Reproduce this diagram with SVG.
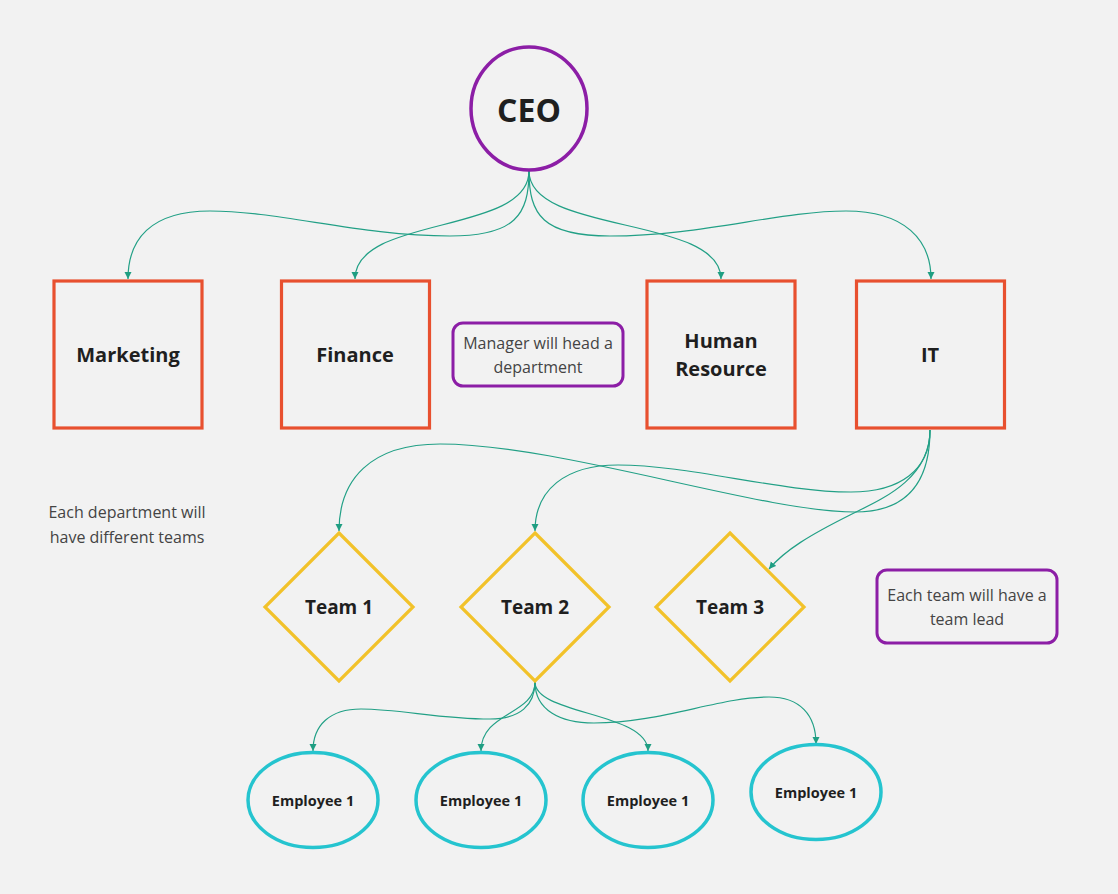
<svg xmlns="http://www.w3.org/2000/svg" width="1118" height="894" viewBox="0 0 1118 894">
<defs>
<marker id="arr" markerWidth="8" markerHeight="8" refX="7" refY="3.5" orient="auto" markerUnits="userSpaceOnUse"><path d="M0,0 L7,3.5 L0,7 z" fill="#1f9e82"/></marker>
<style>
.bg{fill:#f2f2f2}
.c{fill:none;stroke:#22a086;stroke-width:1.2;marker-end:url(#arr)}
.dept{fill:#f2f2f2;stroke:#e8502f;stroke-width:3.2}
.team{fill:#f2f2f2;stroke:#f2c22a;stroke-width:3.2}
.emp{fill:#f2f2f2;stroke:#25c4cf;stroke-width:3.5}
.ceo{fill:#f2f2f2;stroke:#8c1ea6;stroke-width:3.5}
.note{fill:#f2f2f2;stroke:#8c1ea6;stroke-width:3}
.t{font-family:"Open Sans","Noto Sans","Liberation Sans",sans-serif;text-anchor:middle;fill:#1f1f1f;font-weight:bold}
.n{font-family:"Open Sans","Noto Sans","Liberation Sans",sans-serif;text-anchor:middle;fill:#444;font-size:16px}
</style>
</defs>
<rect class="bg" x="0" y="0" width="1118" height="894"/>
<g id="connectors">
<path class="c" d="M529,171 C529,215 515,236 450,236 C360,236 280,211 210,211 C150,211 128,240 128,279"/>
<path class="c" d="M529,171 C529,235 355,215 355,279"/>
<path class="c" d="M529,171 C529,235 721,215 721,279"/>
<path class="c" d="M529,171 C529,215 543,236 610,236 C700,236 780,211 846,211 C905,211 931,240 931,279"/>
<path class="c" d="M930,430 C930,490 900,512 855,512 C760,512 560,444 440,444 C370,444 339,480 339,531"/>
<path class="c" d="M930,430 C930,470 900,492 851,492 C780,492 690,465 618,465 C565,465 535,490 535,531"/>
<path class="c" d="M930,430 C930,480 880,500 850,515 C810,535 785,550 769,569"/>
<path class="c" d="M535,682 C535,705 520,719 490,719 C440,719 400,709 361,709 C330,709 313,725 313,751"/>
<path class="c" d="M535,682 C535,715 481,712 481,751"/>
<path class="c" d="M535,682 C535,715 648,712 648,751"/>
<path class="c" d="M535,682 C535,710 560,723 594,723 C660,723 720,697 769,697 C800,697 816,715 816,744"/>
</g>
<g id="ceo"><ellipse class="ceo" cx="529" cy="108.5" rx="58" ry="61.5"/><text class="t" x="529" y="122" font-size="32">CEO</text></g>
<g id="marketing"><rect class="dept" x="54" y="281" width="148" height="147"/><text class="t" x="128" y="362" font-size="20">Marketing</text></g>
<g id="finance"><rect class="dept" x="281.5" y="281" width="148" height="147"/><text class="t" x="355" y="362" font-size="20">Finance</text></g>
<g id="hr"><rect class="dept" x="647" y="281" width="148" height="147"/><text class="t" x="721" y="348" font-size="20">Human</text><text class="t" x="721" y="376" font-size="20">Resource</text></g>
<g id="it"><rect class="dept" x="856.5" y="281" width="148" height="147"/><text class="t" x="930" y="362" font-size="20">IT</text></g>
<g id="note-manager"><rect class="note" x="453" y="323" width="170" height="63" rx="10"/><text class="n" x="538" y="349">Manager will head a</text><text class="n" x="538" y="373">department</text></g>
<g id="note-teams"><text class="n" x="127" y="518">Each department will</text><text class="n" x="127" y="543">have different teams</text></g>
<g id="team1"><polygon class="team" points="339,533 413,607 339,681 265,607"/><text class="t" x="339" y="614" font-size="19">Team 1</text></g>
<g id="team2"><polygon class="team" points="535,533 609,607 535,681 461,607"/><text class="t" x="535" y="614" font-size="19">Team 2</text></g>
<g id="team3"><polygon class="team" points="730,533 804,607 730,681 656,607"/><text class="t" x="730" y="614" font-size="19">Team 3</text></g>
<g id="note-lead"><rect class="note" x="877" y="570" width="180" height="73" rx="10"/><text class="n" x="967" y="601">Each team will have a</text><text class="n" x="967" y="625">team lead</text></g>
<g id="emp1"><ellipse class="emp" cx="313" cy="800" rx="65" ry="47.5"/><text class="t" x="313" y="806" font-size="14.5">Employee 1</text></g>
<g id="emp2"><ellipse class="emp" cx="481" cy="800" rx="65" ry="47.5"/><text class="t" x="481" y="806" font-size="14.5">Employee 1</text></g>
<g id="emp3"><ellipse class="emp" cx="648" cy="800" rx="65" ry="47.5"/><text class="t" x="648" y="806" font-size="14.5">Employee 1</text></g>
<g id="emp4"><ellipse class="emp" cx="816" cy="792" rx="65" ry="47.5"/><text class="t" x="816" y="798" font-size="14.5">Employee 1</text></g>
</svg>
